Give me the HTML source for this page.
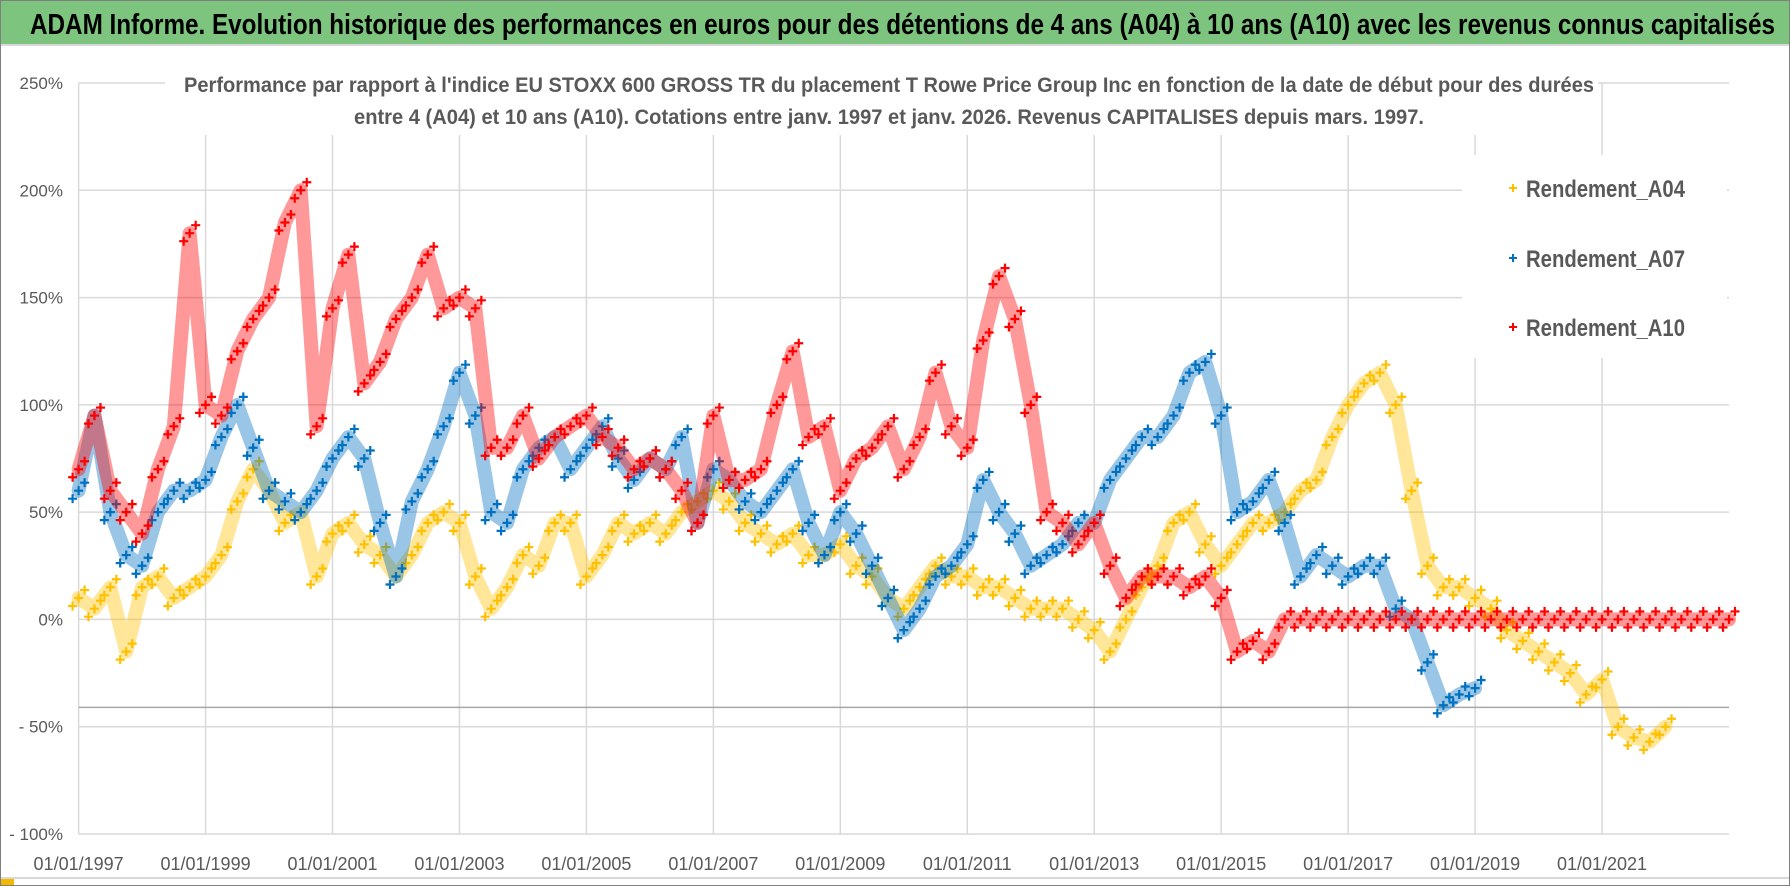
<!DOCTYPE html>
<html><head><meta charset="utf-8"><style>
html,body{margin:0;padding:0;background:#fff;}
svg{display:block;}
text{font-family:"Liberation Sans Narrow","Liberation Sans",sans-serif;}
</style></head><body>
<svg id="chart" width="1790" height="886" viewBox="0 0 1790 886" xmlns="http://www.w3.org/2000/svg">
<rect x="0.5" y="0.5" width="1789" height="885" fill="#fff" stroke="#7f7f7f"/>
<rect x="1" y="1" width="1788" height="43" fill="#7dc57e"/>
<line x1="1" y1="45" x2="1789" y2="45" stroke="#d9d9d9" stroke-width="2"/>
<text x="30" y="34" font-size="29" font-weight="bold" fill="#000" textLength="1745" lengthAdjust="spacingAndGlyphs">ADAM Informe. Evolution historique des performances en euros pour des détentions de 4 ans (A04) à 10 ans (A10) avec les revenus connus capitalisés</text>
<g id="grid"></g>
<rect x="165" y="58" width="1433" height="77" fill="#fff"/>
<text x="889" y="92" font-size="21" font-weight="bold" fill="#595959" text-anchor="middle" textLength="1410" lengthAdjust="spacingAndGlyphs">Performance par rapport à l'indice EU STOXX 600 GROSS TR  du placement T Rowe Price Group Inc en fonction de la date de début pour des durées</text>
<text x="889" y="124" font-size="21" font-weight="bold" fill="#595959" text-anchor="middle" textLength="1070" lengthAdjust="spacingAndGlyphs">entre 4 (A04) et 10 ans (A10). Cotations entre janv. 1997 et janv. 2026. Revenus CAPITALISES depuis mars. 1997.</text>
<g id="series"></g>
<g id="axes"></g>
<g id="legend"></g>
<line x1="1" y1="878" x2="1789" y2="878" stroke="#d9d9d9" stroke-width="2"/>
<rect x="1" y="879" width="13" height="6" fill="#f5b800"/>
</svg>
<script>
// data (quarterly, start 1997.0)
const startYear = 1997;
const step = 0.25;
const a04 = [10,5,15,-15, 15,20,10,15, 20,30,55,70, 60,45,50,20, 40,45,35,30, 20,30,45,50, 45,20,5,15, 30,25,45,45, 20,30,45,40, 45,40,50,55, 60,55,45,40, 35,40,30,30, 35,25,20,10, 5,15,25,20, 20,15,15,10, 5,5,5,0, -5,-15,0,15, 25,45,50,35, 25,35,45,45, 50,60,65,85, 100,110,115,100, 60,25,15,15, 10,5,-5,-10, -15,-20,-25,-35, -28,-50,-55,-57, -50];
const a07 = [60,95,50,30, 25,50,60,60, 65,85,100,80, 60,55,50,60, 75,85,75,45, 20,55,70,90, 115,95,50,45, 70,80,85,70, 80,90,75,65, 75,70,85,45, 70,65,55,50, 60,70,45,30, 50,40,25,10, -5,5,20,25, 35,65,50,40, 25,30,35,45, 45,65,75,85, 85,95,115,120, 95,50,55,65, 45,20,30,25, 20,25,25,5, 0,-20,-40,-35, -32];
const a10 = [70,95,60,50, 40,70,90,180, 100,95,125,140, 150,185,200,90, 145,170,110,120, 140,150,170,145, 150,145,80,80, 95,75,85,90, 95,85,80,70, 75,70,60,45, 95,65,65,70, 100,125,85,90, 60,75,80,90, 70,85,115,90, 80,130,160,140, 100,50,45,35, 45,25,10,20, 20,20,15,20, 10,-15,-10,-15, 0,0,0,0, 0,0,0,0, 0,0,0,0, 0,0,0,0, 0,0,0,0, 0,0,0,0, 0,0,0,0, 0];
const yTicks = [250,200,150,100,50,0,-50,-100];
const yTickLabels = ["250%","200%","150%","100%","50%","0%","- 50%","- 100%"];
const xTicks = [1997,1999,2001,2003,2005,2007,2009,2011,2013,2015,2017,2019,2021];
const xTickLabels = ["01/01/1997","01/01/1999","01/01/2001","01/01/2003","01/01/2005","01/01/2007","01/01/2009","01/01/2011","01/01/2013","01/01/2015","01/01/2017","01/01/2019","01/01/2021"];
const refLine = -41;

const NS = "http://www.w3.org/2000/svg";
const L = 78.6, R = 1729, T = 83, B = 834;
const xMin = 1997, xMax = 2023, yMin = -100, yMax = 250;
function xs(v){ return L + (v - xMin) / (xMax - xMin) * (R - L); }
function ys(v){ return B - (v - yMin) / (yMax - yMin) * (B - T); }
function mk(tag, attrs, parent){ const e = document.createElementNS(NS, tag); for (const k in attrs) e.setAttribute(k, attrs[k]); parent.appendChild(e); return e; }

const grid = document.getElementById('grid');
yTicks.forEach(v => {
  const l = mk('line', {x1:L, x2:R, y1:ys(v), y2:ys(v), stroke:'#d9d9d9', 'stroke-width':1.5}, grid);
  
  
});
xTicks.forEach(v => {
  const l = mk('line', {x1:xs(v), x2:xs(v), y1:T, y2:B, stroke:'#d9d9d9', 'stroke-width':1.5}, grid);
  
  
});
const rl = mk('line', {x1:L, x2:R, y1:ys(refLine), y2:ys(refLine), stroke:'#a6a6a6', 'stroke-width':1.5}, grid);



const axes = document.getElementById('axes');
yTicks.forEach((v, i) => {
  const t = mk('text', {x:63, y:ys(v)+6, 'font-size':17, fill:'#595959', 'text-anchor':'end'}, axes);
  t.textContent = yTickLabels[i];
  
  
});
xTicks.forEach((v, i) => {
  const t = mk('text', {x:xs(v), y:870, 'font-size':18, fill:'#595959', 'text-anchor':'middle'}, axes);
  t.textContent = xTickLabels[i];
  
  
});

const series = document.getElementById('series');
function plus(g, x, y, c, s){
  const p = mk('path', {d:`M${x-s},${y}H${x+s}M${x},${y-s}V${y+s}`, stroke:c, 'stroke-width':2.2, fill:'none'}, g);
  
  
}
function drawSeries(vals, color, name){
  const g = mk('g', {}, series);
  
  
  const pts = vals.map((v, i) => [xs(startYear + i*step), ys(v)]);
  const pl = mk('polyline', {points: pts.map(p => p.join(',')).join(' '), fill:'none', stroke:color, 'stroke-width':14, 'stroke-opacity':0.4, 'stroke-linejoin':'round', 'stroke-linecap':'round'}, g);
  
  
  pts.forEach(p => {
    plus(g, p[0], p[1], color, 4.5);
    plus(g, p[0]+6, p[1]-8, color, 4.5);
    plus(g, p[0]-6, p[1]+8, color, 4.5);
  });
}
drawSeries(a04, '#ffc000', 'series-a04');
drawSeries(a07, '#0070c0', 'series-a07');
drawSeries(a10, '#ff0000', 'series-a10');

const legend = document.getElementById('legend');
mk('rect', {x:1462, y:155, width:265, height:203, fill:'#fff'}, legend);
const legItems = [["Rendement_A04","#ffc000",188],["Rendement_A07","#0070c0",258],["Rendement_A10","#ff0000",327]];
legItems.forEach(it => {
  const g = mk('g', {}, legend);
  
  
  mk('path', {d:`M1509,${it[2]}H1517M1513,${it[2]-4}V${it[2]+4}`, stroke:it[1], 'stroke-width':2}, g);
  const t = mk('text', {x:1526, y:it[2]+9, 'font-size':24, 'font-weight':'bold', fill:'#595959', textLength:159, lengthAdjust:'spacingAndGlyphs'}, g);
  t.textContent = it[0];
});
</script>
</body></html>
